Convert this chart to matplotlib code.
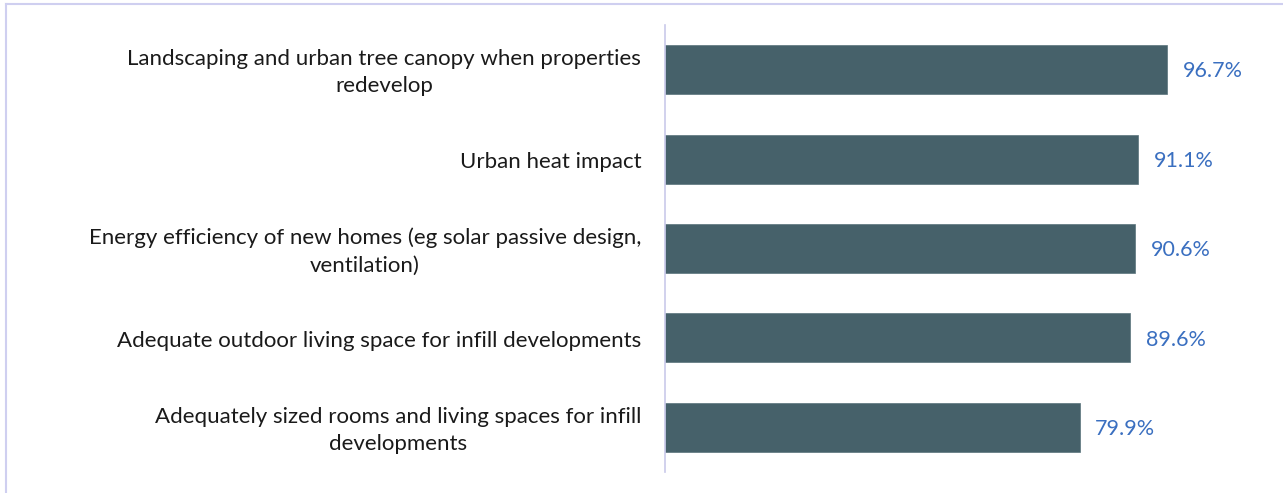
import matplotlib.pyplot as plt
from matplotlib.lines import Line2D

categories = [
    "Landscaping and urban tree canopy when properties\nredevelop",
    "Urban heat impact",
    "Energy efficiency of new homes (eg solar passive design,\nventilation)",
    "Adequate outdoor living space for infill developments",
    "Adequately sized rooms and living spaces for infill\ndevelopments",
]
values = [96.7, 91.1, 90.6, 89.6, 79.9]
value_labels = ["96.7%", "91.1%", "90.6%", "89.6%", "79.9%"]

plt.rcParams['font.family'] = ['Lato', 'DejaVu Sans']

fig = plt.figure(figsize=(12.83, 4.93), dpi=100)
ax = fig.add_axes([665 / 1283, (493 - 472) / 493, (1270 - 665) / 1283, 447 / 493])

pos = list(range(len(categories)))
ax.barh(pos, values, height=0.55, color='#46616a', edgecolor='#5a737b', linewidth=0.5)
ax.set_ylim(len(categories) - 0.5, -0.5)
ax.set_xlim(0, (1270 - 665) / 5.19)

for p, v, lab in zip(pos, values, value_labels):
    ax.text(v + 3.0, p + 0.02, lab, va='center', ha='left', fontsize=15.5, color='#3a6fc0')

for p, c in zip(pos, categories):
    ax.text(-4.6, p + 0.035, c, va='center', ha='right', multialignment='center',
            fontsize=16, color='#1a1a1a', linespacing=1.45)

ax.set_yticks([])
ax.set_xticks([])
for s in ['top', 'right', 'bottom']:
    ax.spines[s].set_visible(False)
ax.spines['left'].set_color('#c9c9ea')
ax.spines['left'].set_linewidth(1.2)

# outer border: top and left only
fig.add_artist(Line2D([6 / 1283, 1], [1 - 4 / 493, 1 - 4 / 493], color='#cfcff0', lw=1.5, transform=fig.transFigure))
fig.add_artist(Line2D([6 / 1283, 6 / 1283], [0, 1 - 4 / 493], color='#cfcff0', lw=1.5, transform=fig.transFigure))

fig.savefig('out.png', dpi=100)
